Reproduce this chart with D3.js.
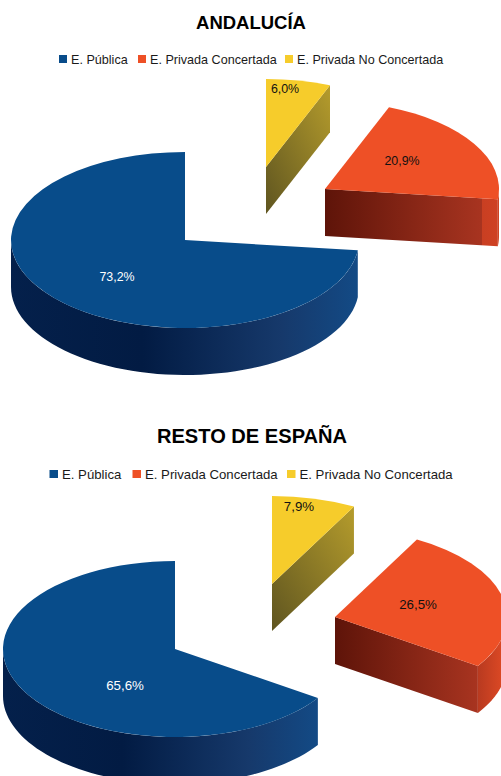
<!DOCTYPE html>
<html>
<head>
<meta charset="utf-8">
<script src="https://cdn.jsdelivr.net/npm/d3@7"></script>
<style>
  html, body { margin: 0; padding: 0; background: #fff; overflow: hidden; }
  svg { display: block; font-family: "Liberation Sans", Arial, sans-serif; }
</style>
</head>
<body>
<svg width="501" height="776"></svg>
<script>
var categories = ["E. Pública", "E. Privada Concertada", "E. Privada No Concertada"];
var andalucia = [73.2, 20.9, 6.0];
var restoEspana = [65.6, 26.5, 7.9];
var labelsAndalucia = ["73,2%", "20,9%", "6,0%"];
var labelsResto = ["65,6%", "26,5%", "7,9%"];

var topColor = ["#084c8a", "#ee5026", "#f6cc2b"];
var labelColor = ["#fff", "#111", "#111"];
// gradient stops of the side walls, left to right
var blueWall = [[0, "#04204b"], [0.38, "#021b43"], [0.78, "#16396b"], [1, "#134a85"]];
var redCut = [[0, "#5e1409"], [1, "#a83420"]];
var redRim = [[0, "#b83a20"], [1, "#e24b25"]];
var yellowCut = [[0, "#5f5520"], [1, "#b59c2c"]];

var svg = d3.select("svg"),
    defs = svg.append("defs");

var charts = [
  {
    id: "a", title: "ANDALUCÍA", titleX: 251, titleY: 29, titleSize: 18.5, values: andalucia, labels: labelsAndalucia,
    rx: 174, ry: 88, depth: 47,
    centers: [[185, 240], [325, 189], [266, 167]],
    labelPos: [[117, 281], [402, 165], [285, 93]], labelSize: 12.4,
    legendY: 59, legendSize: 12.6, swatches: [59, 138, 285], swatchW: 8,
    cutBreak: 0.91
  },
  {
    id: "b", title: "RESTO DE ESPAÑA", titleX: 252, titleY: 443, titleSize: 20.1, values: restoEspana, labels: labelsResto,
    rx: 172, ry: 88, depth: 47,
    centers: [[175, 649], [335, 617], [272, 584]],
    labelPos: [[125, 690], [418, 609], [299, 511]], labelSize: 13.3,
    legendY: 474, legendSize: 13.2, swatches: [49.5, 132.5, 287], swatchW: 8.5,
    cutBreak: null
  }
];

function gradient(id, stops, diagonal) {
  var grad = defs.append("linearGradient").attr("id", id);
  if (diagonal) grad.attr("x1", 0).attr("y1", 1).attr("x2", 1).attr("y2", 0);
  stops.forEach(function(s) {
    grad.append("stop").attr("offset", s[0]).attr("stop-color", s[1]);
  });
  return "url(#" + id + ")";
}

function drawChart(c) {
  var g = svg.append("g").attr("class", "chart");

  // slices run clockwise from 12 o'clock: yellow, red, blue
  var arcs = d3.pie()
      .sort(function(a, b) { return b.i - a.i; })
      .value(function(d) { return d.v; })(c.values.map(function(v, i) { return {v: v, i: i}; }));

  var arcGen = d3.arc().innerRadius(0).outerRadius(c.rx);
  var line = d3.line();

  function rim(center, a) {
    return [center[0] + c.rx * Math.sin(a), center[1] - c.ry * Math.cos(a)];
  }

  arcs.forEach(function(d) {
    var i = d.data.i, center = c.centers[i];
    var s = g.append("g").attr("class", "slice");

    // cut face along the end angle when it looks to the viewer
    if (d.endAngle < Math.PI) {
      var e = rim(center, d.endAngle);
      var stops = i == 2 ? yellowCut : redCut;
      if (i == 1 && c.cutBreak) stops = [[0, redCut[0][1]], [c.cutBreak, redCut[1][1]], [c.cutBreak, "#c93f22"], [1, "#cf4123"]];
      s.append("path")
          .attr("d", line([center, e, [e[0], e[1] + c.depth], [center[0], center[1] + c.depth]]) + "Z")
          .attr("fill", gradient("cut-" + c.id + i, stops, i == 2));
    }

    // front rim of the slice
    var a0 = Math.max(d.startAngle, Math.PI / 2), a1 = Math.min(d.endAngle, Math.PI * 1.5);
    if (a1 > a0) {
      var upper = d3.range(61).map(function(k) { return rim(center, a0 + (a1 - a0) * k / 60); });
      var lower = upper.slice().reverse().map(function(p) { return [p[0], p[1] + c.depth]; });
      s.append("path")
          .attr("d", line(upper.concat(lower)) + "Z")
          .attr("fill", gradient("rim-" + c.id + i, i == 0 ? blueWall : redRim));
    }

    s.append("path")
        .attr("transform", "translate(" + center + ") scale(1," + (c.ry / c.rx) + ")")
        .attr("d", arcGen(d))
        .attr("fill", topColor[i]);

    g.append("text")
        .attr("x", c.labelPos[i][0])
        .attr("y", c.labelPos[i][1])
        .attr("text-anchor", "middle")
        .attr("font-size", c.labelSize)
        .attr("fill", labelColor[i])
        .text(c.labels[i]);
  });

  g.append("text")
      .attr("x", c.titleX)
      .attr("y", c.titleY)
      .attr("text-anchor", "middle")
      .attr("font-weight", "bold")
      .attr("font-size", c.titleSize)
      .attr("fill", "#000")
      .text(c.title);

  var legend = g.selectAll(".legend")
      .data(categories)
      .enter().append("g")
      .attr("class", "legend")
      .attr("transform", function(d, i) { return "translate(" + c.swatches[i] + "," + c.legendY + ")"; });

  legend.append("rect")
      .attr("y", -4)
      .attr("width", c.swatchW)
      .attr("height", 8)
      .attr("fill", function(d, i) { return topColor[i]; });

  legend.append("text")
      .attr("x", c.swatchW + 4)
      .attr("y", 4.5)
      .attr("font-size", c.legendSize)
      .attr("fill", "#1a1a1a")
      .text(function(d) { return d; });
}

charts.forEach(drawChart);
</script>
</body>
</html>
